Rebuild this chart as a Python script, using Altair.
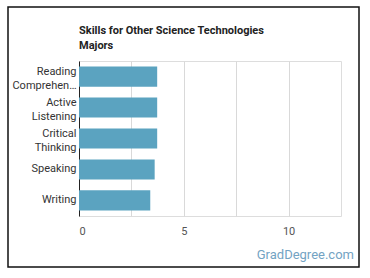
import altair as alt
import pandas as pd

skills = ["Reading Comprehension", "Active Listening", "Critical Thinking", "Speaking", "Writing"]
values = [3.73, 3.73, 3.73, 3.61, 3.40]
title_lines = ["Skills for Other Science Technologies", "Majors"]

df = pd.DataFrame({"skill": skills, "value": values})

label_expr = ("datum.value == 'Reading Comprehension' ? ['Reading', 'Comprehen…'] : "
              "datum.value == 'Active Listening' ? ['Active', 'Listening'] : "
              "datum.value == 'Critical Thinking' ? ['Critical', 'Thinking'] : datum.value")

bars = alt.Chart(df).mark_bar(color="#5ba3c0").encode(
    x=alt.X("value:Q", scale=alt.Scale(domain=[0, 12.5], nice=False),
            axis=alt.Axis(values=[0, 2.5, 5, 7.5, 10], title=None, domain=False, ticks=False,
                          labelExpr="datum.value % 5 == 0 ? datum.label : ''",
                          labelFont="Roboto", labelFontSize=11, labelColor="#555555",
                          labelPadding=9, gridColor="#d9d9d9", gridWidth=1)),
    y=alt.Y("skill:N", sort=skills,
            scale=alt.Scale(paddingInner=0.35, paddingOuter=0.18),
            axis=alt.Axis(title=None, ticks=False, domain=True, domainColor="#222222",
                          domainWidth=1, labelExpr=label_expr, labelFont="Roboto",
                          labelFontSize=11, labelColor="#333333", labelPadding=3,
                          labelLineHeight=14, labelLimit=80, grid=False,
                          labelOffset={"condition": {"test": "datum.value == 'Speaking' || datum.value == 'Writing'", "value": 0}, "value": -5})),
)

one = pd.DataFrame({"t": ["GradDegree.com"]})
mark_txt = alt.Chart(one).mark_text(font="Roboto", fontSize=13, color="#73a3c3",
                                    align="right", baseline="alphabetic").encode(
    text="t:N", x=alt.value(275), y=alt.value(198))

t1 = alt.Chart(pd.DataFrame({"t": [title_lines[0]]})).mark_text(
    font="Roboto", fontSize=11, fontWeight="bold", color="#222222",
    align="left", baseline="alphabetic").encode(text="t:N", x=alt.value(0), y=alt.value(-27))
t2 = alt.Chart(pd.DataFrame({"t": [title_lines[1]]})).mark_text(
    font="Roboto", fontSize=11, fontWeight="bold", color="#222222",
    align="left", baseline="alphabetic").encode(text="t:N", x=alt.value(0), y=alt.value(-12))

frame = alt.Chart(one).mark_rect(fill=None, stroke="#111111", strokeWidth=1.5).encode(
    x=alt.value(-71), x2=alt.value(280), y=alt.value(-54), y2=alt.value(206))

chart = alt.layer(bars, mark_txt, t1, t2, frame).properties(
    width=262, height=155,
    padding={"left": 79, "top": 61, "right": 29, "bottom": 62},
    autosize=alt.AutoSizeParams(type="none"),
).configure_view(stroke=None).configure(background="white")

chart.save("out.html", embed_options={"renderer": "svg", "actions": False})
